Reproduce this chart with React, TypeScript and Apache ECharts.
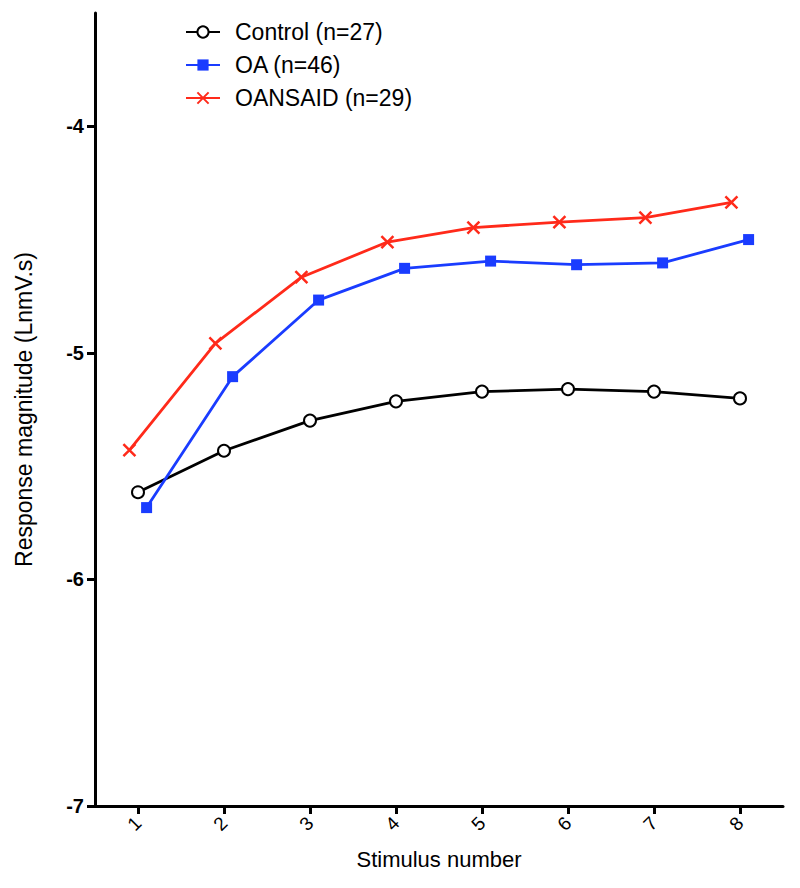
import React, { useEffect, useRef } from "react";
import * as echarts from "echarts";

const stimuli = ["1", "2", "3", "4", "5", "6", "7", "8"];
const seriesNames = ["Control (n=27)", "OA (n=46)", "OANSAID (n=29)"];
const control = [-5.615, -5.432, -5.299, -5.214, -5.171, -5.16, -5.171, -5.201];
const oa = [-5.683, -5.105, -4.767, -4.627, -4.595, -4.611, -4.603, -4.5];
const oansaid = [-5.429, -4.958, -4.666, -4.511, -4.447, -4.423, -4.403, -4.336];
const yMin = -7;
const yMax = -3.5;

const FONT = "'Liberation Sans', Arial, Helvetica, sans-serif";
const DODGE = 0.1;
const RED = "#ff2a1a";
const BLUE = "#1a3cff";

export default function App() {
  const ref = useRef<HTMLDivElement>(null);
  useEffect(() => {
    if (!ref.current) return;
    const chart = echarts.init(ref.current, undefined, { renderer: "svg" });
    const toPoints = (arr: number[], off: number) => arr.map((v, i) => [i + 1 + off, v]);
    chart.setOption({
      animation: false,
      backgroundColor: "#fff",
      textStyle: { fontFamily: FONT },
      grid: { left: 95, right: 17, top: 13, bottom: 82, containLabel: false },
      legend: {
        orient: "vertical",
        left: 180,
        top: 15,
        itemWidth: 34,
        itemHeight: 14,
        itemGap: 9,
        data: seriesNames,
        textStyle: { fontSize: 23, color: "#000", lineHeight: 24, padding: [0, 0, 0, 10] },
      },
      xAxis: [
        {
          type: "category",
          data: stimuli,
          boundaryGap: true,
          name: "Stimulus number",
          nameLocation: "middle",
          nameGap: 42,
          nameTextStyle: { fontSize: 22, color: "#000" },
          axisLine: { lineStyle: { color: "#000", width: 3 } },
          axisTick: { show: true, alignWithLabel: true, length: 8, lineStyle: { color: "#000", width: 3 } },
          axisLabel: { rotate: 45, fontSize: 19, color: "#000", margin: 14 },
          splitLine: { show: false },
        },
        { type: "value", min: 0.5, max: 8.5, show: false },
      ],
      yAxis: {
        type: "value",
        min: yMin,
        max: yMax,
        interval: 1,
        name: "Response magnitude (LnmV.s)",
        nameLocation: "middle",
        nameGap: 60,
        nameTextStyle: { fontSize: 23, color: "#000" },
        axisLine: { show: true, lineStyle: { color: "#000", width: 3 } },
        axisTick: { show: true, length: 8, lineStyle: { color: "#000", width: 3 } },
        axisLabel: { fontSize: 20, fontWeight: "bold", color: "#000", margin: 11, showMaxLabel: false },
        splitLine: { show: false },
      },
      series: [
        {
          name: seriesNames[0],
          type: "line",
          xAxisIndex: 1,
          data: toPoints(control, 0),
          symbol: "emptyCircle",
          symbolSize: 12,
          lineStyle: { color: "#000", width: 2.8 },
          itemStyle: { color: "#000", borderColor: "#000", borderWidth: 2.5 },
        },
        {
          name: seriesNames[1],
          type: "line",
          xAxisIndex: 1,
          data: toPoints(oa, DODGE),
          symbol: "rect",
          symbolSize: 11,
          lineStyle: { color: BLUE, width: 2.8 },
          itemStyle: { color: BLUE, borderColor: BLUE, borderWidth: 0 },
        },
        {
          name: seriesNames[2],
          type: "line",
          xAxisIndex: 1,
          data: toPoints(oansaid, -DODGE),
          symbol: "path://M0,0L10,10M10,0L0,10",
          symbolSize: 12,
          lineStyle: { color: RED, width: 2.8 },
          itemStyle: { color: RED, borderColor: RED, borderWidth: 2.5 },
        },
      ],
    });
    return () => chart.dispose();
  }, []);
  return (
    <div
      ref={ref}
      style={{ position: "fixed", left: 0, top: 0, width: 800, height: 888, background: "#fff" }}
    />
  );
}
